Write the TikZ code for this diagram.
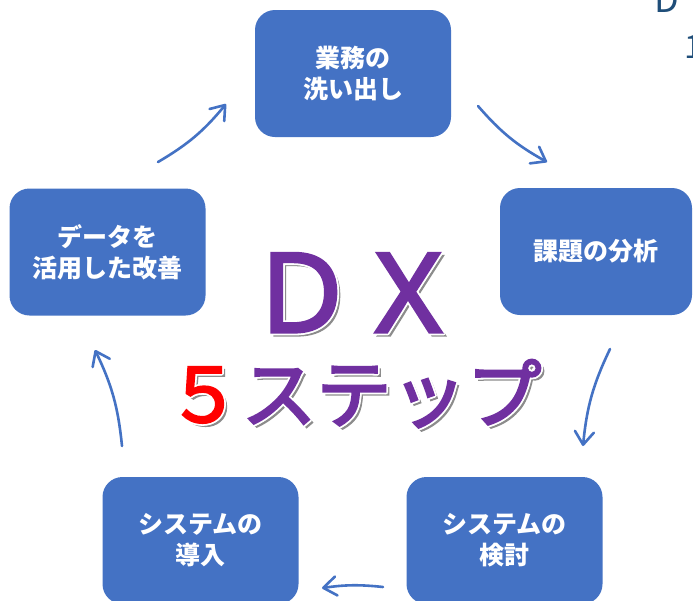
\documentclass[tikz,border=0pt]{standalone}
\usepackage{fontspec}
\setmainfont{Noto Sans CJK JP}
\newfontfamily\dxfont[FakeBold=3]{Noto Sans CJK JP}
\usetikzlibrary{arrows.meta}
\definecolor{boxblue}{HTML}{4472C4}
\definecolor{dxpurple}{HTML}{7030A0}
\definecolor{titleblue}{HTML}{1F4E79}
\definecolor{shadowgray}{HTML}{8C8C8C}
\newcommand\fivecol{red}
% #1 name, #2 x, #3 y, #4 font, #5 text
\newcommand\fxlabel[5]{%
  \node[anchor=base, font=#4, text=shadowgray, inner sep=0pt] (#1sh) at (#2+3,#3+3) {\def\fivecol{.}#5};
  \foreach \ox/\oy [count=\k] in {1.8/0,-1.8/0,0/1.8,0/-1.8,1.3/1.3,-1.3/1.3,1.3/-1.3,-1.3/-1.3}{
    \node[anchor=base, font=#4, text=white, inner sep=0pt] (#1o\k) at (#2+\ox,#3+\oy) {\def\fivecol{.}#5};
  }
  \node[anchor=base, font=#4, text=dxpurple, inner sep=0pt] (#1) at (#2,#3) {#5};
}
\begin{document}
\begin{tikzpicture}[x=1pt,y=-1pt,
  stepbox/.style={fill=boxblue, rounded corners=20pt, minimum width=196pt,
    minimum height=127pt, text=white, align=center, inner sep=0pt,
    font=\bfseries\fontsize{25}{31}\selectfont},
  cyc/.style={draw=boxblue, line width=2.6pt, line cap=round,
    -{Straight Barb[length=13pt,width=19pt,line width=2.6pt,round]}}]
\useasboundingbox (0,0) rectangle (693,600);
\fill[white] (0,0) rectangle (693,600);
\clip (0,0) rectangle (693,600);

% partial title at the top right edge
\node[anchor=base west, inner sep=0pt, text=titleblue, font=\fontsize{36}{36}\selectfont] (ttl1) at (654,12) {D};
\node[anchor=base west, inner sep=0pt, text=titleblue, font=\fontsize{32}{32}\selectfont] (ttl2) at (684,58) {1};

% step boxes
\node[stepbox] (s1) at (353,73.5) {業務の\\洗い出し};
\node[stepbox, minimum width=192pt] (s2) at (596,251.5) {課題の分析};
\node[stepbox] (s3) at (504.5,540.5) {システムの\\検討};
\node[stepbox] (s4) at (200.5,540.5) {システムの\\導入};
\node[stepbox] (s5) at (107.5,252) {データを\\活用した改善};

% cycle arrows
\coordinate (a1s) at (158,162); \coordinate (a1e) at (226,104);
\coordinate (a2s) at (478,106); \coordinate (a2e) at (547,162);
\coordinate (a3s) at (610,349); \coordinate (a3e) at (583,446);
\coordinate (a4s) at (383,587); \coordinate (a4e) at (322,588);
\coordinate (a5s) at (122,446); \coordinate (a5e) at (95,350);
\draw[cyc] (a1s) to[bend right=10] (a1e);
\draw[cyc] (a2s) to[bend right=10] (a2e);
\draw[cyc] (a3s) to[bend right=10] (a3e);
\draw[cyc] (a4s) to[bend right=7] (a4e);
\draw[cyc] (a5s) to[bend right=10] (a5e);

% central title
\fxlabel{dx}{355}{332}{\dxfont\fontsize{107}{107}\selectfont}{ＤＸ}
\fxlabel{steps}{354}{422}{\dxfont\fontsize{75}{75}\selectfont}{{\color{\fivecol}５}ステップ}
\end{tikzpicture}
\end{document}
